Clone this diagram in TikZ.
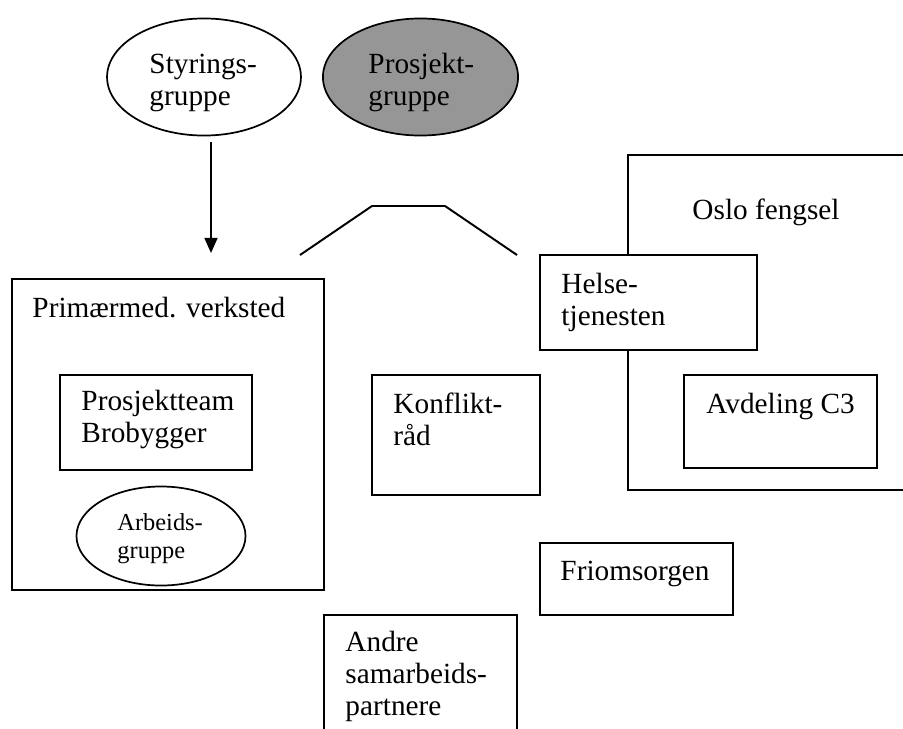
\documentclass[tikz,border=0pt]{standalone}
\usepackage{fontspec}
\setmainfont{Liberation Serif}
\usetikzlibrary{arrows.meta,shapes.geometric,fit}
\definecolor{prgray}{RGB}{150,150,150}
\tikzset{
  ln/.style={line width=0.8pt},
  boxr/.style={draw, ln, rectangle, inner sep=0pt},
  ell/.style={draw, line width=0.7pt, ellipse, inner sep=0pt},
  lbl/.style={anchor=north west, inner sep=0pt, align=left, font=\fontsize{12}{13.1}\selectfont},
  lblsmall/.style={anchor=north west, inner sep=0pt, align=left, font=\fontsize{10}{11.5}\selectfont}
}
\begin{document}
\begin{tikzpicture}[x=0.41pt,y=-0.41pt]
\useasboundingbox (0,0) rectangle (903,728);
\clip (0,0) rectangle (903,728);
\fill[white] (0,0) rectangle (903,728);
% ellipses
\node[ell, minimum width=79.5pt, minimum height=48pt] (sty) at (204,77) {};
\node[ell, fill=prgray, minimum width=80pt, minimum height=48pt] (pro) at (420.5,77) {};
\node[lbl] (styT) at (149,50.6) {\strut Styrings-\\gruppe};
\node[lbl] (proT) at (368,50.6) {\strut Prosjekt-\\gruppe};
% arrow
\coordinate (a1) at (211,142);
\coordinate (a2) at (211,253);
\draw[ln, -{Triangle[length=6.2pt,width=5.3pt]}] (a1) -- (a2);
% bridge polyline
\coordinate (p1) at (300,255);
\coordinate (p2) at (372,206);
\coordinate (p3) at (445,206);
\coordinate (p4) at (517,255);
\draw[ln] (p1) -- (p2) -- (p3) -- (p4);
% Primaermed
\node[boxr, fit={(12,279) (324,590)}] (prim) {};
\node[lbl] (primT) at (32,294.6) {\strut Primærmed. verksted};
\node[boxr, fit={(60,375) (252,470)}] (team) {};
\node[lbl] (teamT) at (81,387.6) {\strut Prosjektteam\\Brobygger};
\node[ell, minimum width=69.3pt, minimum height=40.6pt] (arb) at (161,536) {};
\node[lblsmall] (arbT) at (117,510.4) {\strut Arbeids-\\gruppe};
% Konfliktraad
\node[boxr, fit={(372,375) (540,495)}] (konf) {};
\node[lbl] (konfT) at (393,390.6) {\strut Konflikt-\\råd};
% Oslo fengsel
\node[boxr, fit={(628,155) (930,490)}] (oslo) {};
\node[lbl] (osloT) at (692,196.6) {\strut Oslo fengsel};
\node[boxr, fill=white, fit={(540,255) (757,350)}] (helse) {};
\node[lbl] (helseT) at (561,270.6) {\strut Helse-\\tjenesten};
\node[boxr, fit={(684,375) (877,468)}] (avd) {};
\node[lbl] (avdT) at (706,390.6) {\strut Avdeling C3};
% Friomsorgen
\node[boxr, fit={(540,543) (733,615)}] (frio) {};
\node[lbl] (frioT) at (560,557.6) {\strut Friomsorgen};
% Andre
\node[boxr, fit={(324,615) (517,745)}] (andre) {};
\node[lbl] (andreT) at (345,628.6) {\strut Andre\\samarbeids-\\partnere};
\end{tikzpicture}
\end{document}
